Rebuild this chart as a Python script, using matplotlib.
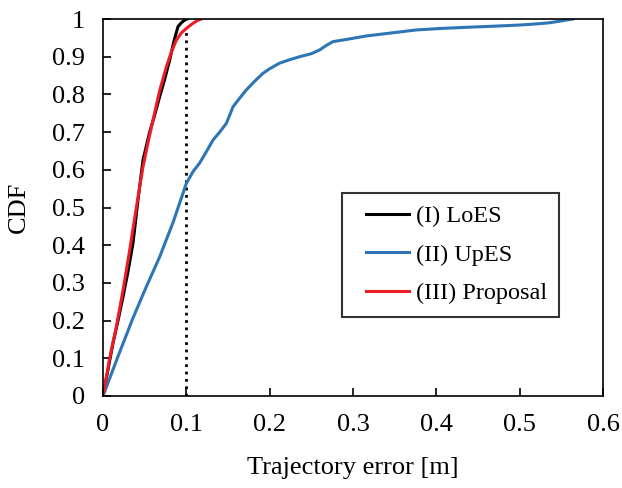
import matplotlib
matplotlib.use("Agg")
import matplotlib.pyplot as plt
from matplotlib.lines import Line2D
from matplotlib.legend_handler import HandlerLine2D

plt.rcParams['font.family'] = ['Liberation Serif', 'DejaVu Serif']

loes_x = [0, 0.006, 0.012, 0.018, 0.024, 0.03, 0.036, 0.042, 0.048, 0.056,
          0.062, 0.068, 0.074, 0.08, 0.085, 0.09, 0.094, 0.098, 0.101]
loes_y = [0, 0.07, 0.14, 0.2, 0.263, 0.33, 0.405, 0.52, 0.626, 0.7,
          0.745, 0.794, 0.84, 0.891, 0.94, 0.98, 0.99, 0.997, 1.0]

upes_x = [0, 0.018, 0.036, 0.052, 0.068, 0.084, 0.1, 0.108, 0.116, 0.124,
          0.132, 0.14, 0.148, 0.152, 0.156, 0.164, 0.172, 0.182, 0.192, 0.2,
          0.212, 0.224, 0.236, 0.25, 0.26, 0.268, 0.276, 0.29, 0.316, 0.346,
          0.376, 0.406, 0.436, 0.47, 0.5, 0.52, 0.536, 0.55, 0.564]
upes_y = [0, 0.105, 0.207, 0.29, 0.369, 0.46, 0.564, 0.595, 0.618, 0.648,
          0.679, 0.7, 0.723, 0.745, 0.767, 0.79, 0.812, 0.835, 0.856, 0.868,
          0.883, 0.892, 0.9, 0.908, 0.918, 0.93, 0.94, 0.945, 0.955, 0.963,
          0.971, 0.975, 0.978, 0.981, 0.984, 0.987, 0.99, 0.995, 1.0]

prop_x = [0, 0.008, 0.016, 0.024, 0.032, 0.04, 0.048, 0.054, 0.06, 0.068,
          0.076, 0.082, 0.088, 0.094, 0.1, 0.107, 0.114, 0.118]
prop_y = [0, 0.1, 0.184, 0.28, 0.387, 0.5, 0.608, 0.672, 0.732, 0.81,
          0.873, 0.912, 0.944, 0.963, 0.975, 0.987, 0.997, 1.0]

xticks = [0, 0.1, 0.2, 0.3, 0.4, 0.5, 0.6]
yticks = [0, 0.1, 0.2, 0.3, 0.4, 0.5, 0.6, 0.7, 0.8, 0.9, 1]

fig = plt.figure(figsize=(6.22, 4.88), dpi=100)
ax = fig.add_axes([103 / 622, 92 / 488, 500 / 622, 377 / 488])

ax.plot([0.1, 0.1], [0, 0.975], color='black', linestyle=':', linewidth=2)
ax.plot(loes_x, loes_y, color='black', linewidth=2.2, label='(I) LoES')
ax.plot(upes_x, upes_y, color='#2E75B6', linewidth=2.2, label='(II) UpES')
ax.plot(prop_x, prop_y, color='#EE1C25', linewidth=2.2, label='(III) Proposal')

ax.set_xlim(0, 0.6)
ax.set_ylim(0, 1)
ax.set_xticks(xticks)
ax.set_yticks(yticks)
ax.set_xticklabels(['0', '0.1', '0.2', '0.3', '0.4', '0.5', '0.6'])
ax.set_yticklabels(['0', '0.1', '0.2', '0.3', '0.4', '0.5', '0.6', '0.7', '0.8', '0.9', '1'])
ax.tick_params(direction='in', length=6, width=1.2, labelsize=19)
ax.tick_params(axis='x', pad=13)
ax.tick_params(axis='y', pad=13)
for s in ax.spines.values():
    s.set_linewidth(1.2)

ax.set_xlabel('Trajectory error [m]', fontsize=19, labelpad=15)
ax.set_ylabel('CDF', fontsize=19, labelpad=16)

# xpad pushes the legend lines a bit away from the frame
leg = ax.legend(loc='upper left', bbox_to_anchor=(0.478, 0.538), fontsize=17.5,
                frameon=True, fancybox=False, edgecolor='black',
                handlelength=2.25, handletextpad=0.3, borderpad=0.5,
                labelspacing=0.68, borderaxespad=0,
                handler_map={Line2D: HandlerLine2D(xpad=0.5)})
leg.get_frame().set_linewidth(1.5)

fig.savefig('out.png', dpi=100)
